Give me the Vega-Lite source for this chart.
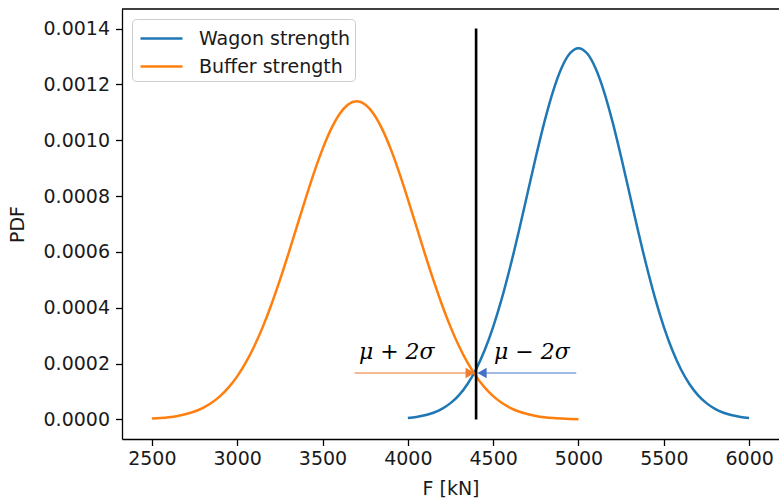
{
  "$schema": "https://vega.github.io/schema/vega-lite/v6.json",
  "width": 657,
  "height": 430,
  "autosize": {"type": "none"},
  "padding": {"left": 122, "top": 9, "right": 0, "bottom": 60},
  "background": "white",
  "config": {
    "font": "DejaVu Sans",
    "view": {"stroke": null},
    "axis": {
      "grid": false,
      "domain": true,
      "domainColor": "black",
      "domainWidth": 1.3,
      "tickColor": "black",
      "tickWidth": 1.3,
      "tickSize": 6.5,
      "labelFontSize": 19,
      "labelColor": "#1a1a1a",
      "titleFontSize": 19,
      "titleFontWeight": "normal",
      "titleColor": "#1a1a1a"
    },
    "legend": {
      "orient": "none",
      "legendX": 10,
      "legendY": 10,
      "symbolType": "M-1.5,0L1.5,0",
      "symbolSize": 784,
      "symbolOffset": 10,
      "symbolStrokeWidth": 2.5,
      "symbolFillColor": "transparent",
      "labelFontSize": 19,
      "labelColor": "#1a1a1a",
      "labelOffset": 22,
      "rowPadding": 2,
      "padding": 4,
      "fillColor": "white",
      "strokeColor": "#cccccc",
      "cornerRadius": 4
    }
  },
  "datasets": {
    "curves": [
      {"s": "Wagon strength", "F": 4000, "PDF": 0.00000514},
      {"s": "Wagon strength", "F": 4050, "PDF": 0.00000884},
      {"s": "Wagon strength", "F": 4100, "PDF": 0.00001477},
      {"s": "Wagon strength", "F": 4150, "PDF": 0.00002402},
      {"s": "Wagon strength", "F": 4200, "PDF": 0.00003799},
      {"s": "Wagon strength", "F": 4250, "PDF": 0.00005843},
      {"s": "Wagon strength", "F": 4300, "PDF": 0.00008741},
      {"s": "Wagon strength", "F": 4350, "PDF": 0.00012717},
      {"s": "Wagon strength", "F": 4400, "PDF": 0.00017997},
      {"s": "Wagon strength", "F": 4450, "PDF": 0.00024770},
      {"s": "Wagon strength", "F": 4500, "PDF": 0.00033159},
      {"s": "Wagon strength", "F": 4550, "PDF": 0.00043173},
      {"s": "Wagon strength", "F": 4600, "PDF": 0.00054670},
      {"s": "Wagon strength", "F": 4650, "PDF": 0.00067333},
      {"s": "Wagon strength", "F": 4700, "PDF": 0.00080657},
      {"s": "Wagon strength", "F": 4750, "PDF": 0.00093970},
      {"s": "Wagon strength", "F": 4800, "PDF": 0.00106483},
      {"s": "Wagon strength", "F": 4850, "PDF": 0.00117355},
      {"s": "Wagon strength", "F": 4900, "PDF": 0.00125795},
      {"s": "Wagon strength", "F": 4950, "PDF": 0.00131147},
      {"s": "Wagon strength", "F": 5000, "PDF": 0.00132981},
      {"s": "Wagon strength", "F": 5050, "PDF": 0.00131147},
      {"s": "Wagon strength", "F": 5100, "PDF": 0.00125795},
      {"s": "Wagon strength", "F": 5150, "PDF": 0.00117355},
      {"s": "Wagon strength", "F": 5200, "PDF": 0.00106483},
      {"s": "Wagon strength", "F": 5250, "PDF": 0.00093970},
      {"s": "Wagon strength", "F": 5300, "PDF": 0.00080657},
      {"s": "Wagon strength", "F": 5350, "PDF": 0.00067333},
      {"s": "Wagon strength", "F": 5400, "PDF": 0.00054670},
      {"s": "Wagon strength", "F": 5450, "PDF": 0.00043173},
      {"s": "Wagon strength", "F": 5500, "PDF": 0.00033159},
      {"s": "Wagon strength", "F": 5550, "PDF": 0.00024770},
      {"s": "Wagon strength", "F": 5600, "PDF": 0.00017997},
      {"s": "Wagon strength", "F": 5650, "PDF": 0.00012717},
      {"s": "Wagon strength", "F": 5700, "PDF": 0.00008741},
      {"s": "Wagon strength", "F": 5750, "PDF": 0.00005843},
      {"s": "Wagon strength", "F": 5800, "PDF": 0.00003799},
      {"s": "Wagon strength", "F": 5850, "PDF": 0.00002402},
      {"s": "Wagon strength", "F": 5900, "PDF": 0.00001477},
      {"s": "Wagon strength", "F": 5950, "PDF": 0.00000884},
      {"s": "Wagon strength", "F": 6000, "PDF": 0.00000514},
      {"s": "Buffer strength", "F": 2500, "PDF": 0.00000319},
      {"s": "Buffer strength", "F": 2550, "PDF": 0.00000516},
      {"s": "Buffer strength", "F": 2600, "PDF": 0.00000816},
      {"s": "Buffer strength", "F": 2650, "PDF": 0.00001266},
      {"s": "Buffer strength", "F": 2700, "PDF": 0.00001924},
      {"s": "Buffer strength", "F": 2750, "PDF": 0.00002865},
      {"s": "Buffer strength", "F": 2800, "PDF": 0.00004178},
      {"s": "Buffer strength", "F": 2850, "PDF": 0.00005972},
      {"s": "Buffer strength", "F": 2900, "PDF": 0.00008363},
      {"s": "Buffer strength", "F": 2950, "PDF": 0.00011475},
      {"s": "Buffer strength", "F": 3000, "PDF": 0.00015426},
      {"s": "Buffer strength", "F": 3050, "PDF": 0.00020319},
      {"s": "Buffer strength", "F": 3100, "PDF": 0.00026224},
      {"s": "Buffer strength", "F": 3150, "PDF": 0.00033161},
      {"s": "Buffer strength", "F": 3200, "PDF": 0.00041085},
      {"s": "Buffer strength", "F": 3250, "PDF": 0.00049875},
      {"s": "Buffer strength", "F": 3300, "PDF": 0.00059323},
      {"s": "Buffer strength", "F": 3350, "PDF": 0.00069135},
      {"s": "Buffer strength", "F": 3400, "PDF": 0.00078943},
      {"s": "Buffer strength", "F": 3450, "PDF": 0.00088319},
      {"s": "Buffer strength", "F": 3500, "PDF": 0.00096814},
      {"s": "Buffer strength", "F": 3550, "PDF": 0.00103982},
      {"s": "Buffer strength", "F": 3600, "PDF": 0.00109425},
      {"s": "Buffer strength", "F": 3650, "PDF": 0.00112827},
      {"s": "Buffer strength", "F": 3700, "PDF": 0.00113984},
      {"s": "Buffer strength", "F": 3750, "PDF": 0.00112827},
      {"s": "Buffer strength", "F": 3800, "PDF": 0.00109425},
      {"s": "Buffer strength", "F": 3850, "PDF": 0.00103982},
      {"s": "Buffer strength", "F": 3900, "PDF": 0.00096814},
      {"s": "Buffer strength", "F": 3950, "PDF": 0.00088319},
      {"s": "Buffer strength", "F": 4000, "PDF": 0.00078943},
      {"s": "Buffer strength", "F": 4050, "PDF": 0.00069135},
      {"s": "Buffer strength", "F": 4100, "PDF": 0.00059323},
      {"s": "Buffer strength", "F": 4150, "PDF": 0.00049875},
      {"s": "Buffer strength", "F": 4200, "PDF": 0.00041085},
      {"s": "Buffer strength", "F": 4250, "PDF": 0.00033161},
      {"s": "Buffer strength", "F": 4300, "PDF": 0.00026224},
      {"s": "Buffer strength", "F": 4350, "PDF": 0.00020319},
      {"s": "Buffer strength", "F": 4400, "PDF": 0.00015426},
      {"s": "Buffer strength", "F": 4450, "PDF": 0.00011475},
      {"s": "Buffer strength", "F": 4500, "PDF": 0.00008363},
      {"s": "Buffer strength", "F": 4550, "PDF": 0.00005972},
      {"s": "Buffer strength", "F": 4600, "PDF": 0.00004178},
      {"s": "Buffer strength", "F": 4650, "PDF": 0.00002865},
      {"s": "Buffer strength", "F": 4700, "PDF": 0.00001924},
      {"s": "Buffer strength", "F": 4750, "PDF": 0.00001266},
      {"s": "Buffer strength", "F": 4800, "PDF": 0.00000816},
      {"s": "Buffer strength", "F": 4850, "PDF": 0.00000516},
      {"s": "Buffer strength", "F": 4900, "PDF": 0.00000319},
      {"s": "Buffer strength", "F": 4950, "PDF": 0.00000194},
      {"s": "Buffer strength", "F": 5000, "PDF": 0.00000115}
    ]
  },
  "layer": [
    {
      "data": {"name": "curves"},
      "mark": {"type": "line", "strokeWidth": 2.5, "interpolate": "monotone"},
      "encoding": {
        "x": {
          "field": "F", "type": "quantitative",
          "scale": {"domain": [2325, 6175], "nice": false, "zero": false},
          "axis": {"values": [2500, 3000, 3500, 4000, 4500, 5000, 5500, 6000], "format": "d", "title": "F [kN]", "labelPadding": 4, "titlePadding": 11}
        },
        "y": {
          "field": "PDF", "type": "quantitative",
          "scale": {"domain": [-0.00007, 0.00147], "nice": false, "zero": false},
          "axis": {"values": [0, 0.0002, 0.0004, 0.0006, 0.0008, 0.001, 0.0012, 0.0014], "format": ".4f", "title": "PDF", "labelPadding": 6, "titlePadding": 16}
        },
        "color": {
          "field": "s", "type": "nominal",
          "scale": {"domain": ["Wagon strength", "Buffer strength"], "range": ["#1f77b4", "#ff7f0e"]},
          "legend": {"title": null}
        }
      }
    },
    {
      "data": {"values": [{"top": 0.00147}]},
      "mark": {"type": "rule", "color": "black", "strokeWidth": 1.3},
      "encoding": {"y": {"field": "top", "type": "quantitative"}}
    },
    {
      "data": {"values": [{"F": 4400, "lo": 0, "hi": 0.0014}]},
      "mark": {"type": "rule", "color": "black", "strokeWidth": 2.6},
      "encoding": {
        "x": {"field": "F", "type": "quantitative"},
        "y": {"field": "lo", "type": "quantitative"},
        "y2": {"field": "hi"}
      }
    },
    {
      "data": {"values": [{"a": 3688, "b": 4385, "y": 0.000166}]},
      "mark": {"type": "rule", "color": "#F2A36E", "strokeWidth": 1.5},
      "encoding": {
        "x": {"field": "a", "type": "quantitative"},
        "x2": {"field": "b"},
        "y": {"field": "y", "type": "quantitative"}
      }
    },
    {
      "data": {"values": [{"a": 4415, "b": 4987, "y": 0.000166}]},
      "mark": {"type": "rule", "color": "#7FA3DC", "strokeWidth": 1.5},
      "encoding": {
        "x": {"field": "a", "type": "quantitative"},
        "x2": {"field": "b"},
        "y": {"field": "y", "type": "quantitative"}
      }
    },
    {
      "data": {"values": [{"F": 4365, "y": 0.000166}]},
      "mark": {"type": "point", "shape": "triangle-right", "filled": true, "size": 110, "color": "#ED7D31", "opacity": 1},
      "encoding": {
        "x": {"field": "F", "type": "quantitative"},
        "y": {"field": "y", "type": "quantitative"}
      }
    },
    {
      "data": {"values": [{"F": 4435, "y": 0.000166}]},
      "mark": {"type": "point", "shape": "triangle-left", "filled": true, "size": 110, "color": "#4472C4", "opacity": 1},
      "encoding": {
        "x": {"field": "F", "type": "quantitative"},
        "y": {"field": "y", "type": "quantitative"}
      }
    },
    {
      "data": {"values": [{"F": 3935, "y": 0.000218, "t": "μ + 2σ"}, {"F": 4727, "y": 0.000218, "t": "μ − 2σ"}]},
      "mark": {"type": "text", "font": "DejaVu Serif", "fontStyle": "italic", "fontSize": 22, "color": "black", "align": "center", "baseline": "alphabetic"},
      "encoding": {
        "x": {"field": "F", "type": "quantitative"},
        "y": {"field": "y", "type": "quantitative"},
        "text": {"field": "t"}
      }
    }
  ]
}
